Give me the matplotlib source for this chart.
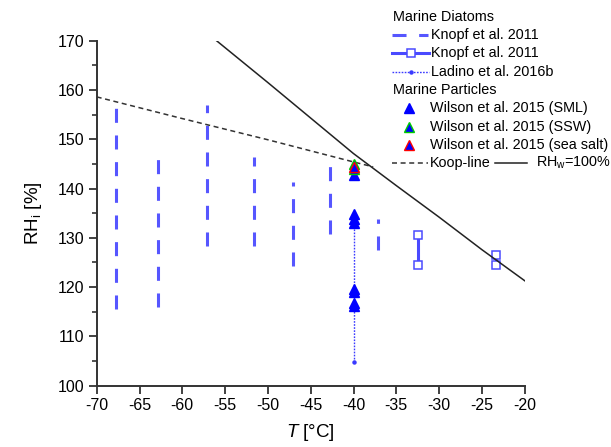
import matplotlib
matplotlib.use('Agg')
from matplotlib import pyplot as plt
import numpy as np

plt.rcParams['font.family'] = ['Liberation Sans', 'DejaVu Sans']
plt.rcParams['mathtext.fontset'] = 'custom'
plt.rcParams['mathtext.rm'] = 'Liberation Sans'
plt.rcParams['mathtext.it'] = 'Liberation Sans:italic'
plt.rcParams['lines.scale_dashes'] = False
plt.rcParams['axes.unicode_minus'] = False

# Knopf et al. 2011, onset ranges (vertical dashed bars)
knopf_T = [-67.7, -62.8, -57.1, -51.6, -47.1, -42.8, -37.1]
knopf_rh_lo = [115.5, 115.9, 128.4, 128.4, 124.2, 130.7, 127.6]
knopf_rh_hi = [156.4, 146.0, 156.9, 146.5, 141.4, 144.5, 133.9]

# Knopf et al. 2011, squares
knopf_sq_T = [-32.5, -23.3]
knopf_sq_lo = [124.4, 124.4]
knopf_sq_hi = [130.6, 126.6]

# Ladino et al. 2016b
ladino_T = [-40, -40]
ladino_rh = [104.8, 134.6]

# Wilson et al. 2015
sml_T = [-40] * 8
sml_rh = [142.8, 134.8, 133.8, 133.1, 119.7, 119.0, 116.8, 116.1]
ssw_T = [-40, -40]
ssw_rh = [144.9, 144.0]
salt_T = [-40]
salt_rh = [144.4]

# Koop line and water saturation
koop_T = [-70, -60, -50, -40, -37.7]
koop_rh = [158.6, 154.2, 149.9, 145.4, 144.4]
water_T = [-56, -50, -45, -40, -35, -30, -25, -20]
water_rh = [170.0, 161.5, 154.3, 147.1, 140.6, 134.2, 127.6, 121.3]

blue_dash = '#5656ff'
blue_sq = '#4a4aff'

fig = plt.figure(figsize=(6.11, 4.47), dpi=100)
ax = fig.add_axes([96.7/611, 1 - 385.7/447, (524.7 - 96.7)/611, (385.7 - 40.7)/447])

for T, lo, hi in zip(knopf_T, knopf_rh_lo, knopf_rh_hi):
    ax.plot([T, T], [lo, hi], color=blue_dash, lw=2.2, linestyle=(0, (10.1, 9.1)),
            solid_capstyle='butt')

for T, lo, hi in zip(knopf_sq_T, knopf_sq_lo, knopf_sq_hi):
    ax.plot([T, T], [lo, hi], color=blue_sq, lw=2.2, marker='s', ms=6,
            mfc='white', mec=blue_sq, mew=1.1)

ax.plot(koop_T, koop_rh, color='#333333', lw=1.1, linestyle=(0, (3.6, 2.6)))
ax.plot(water_T, water_rh, color='#222222', lw=1.1)

ax.plot(ladino_T, ladino_rh, color='#3a3aff', lw=1.0, linestyle=(0, (1.2, 1.0)),
        marker='o', ms=2.2)

ax.plot(sml_T, sml_rh, linestyle='none', marker='^', ms=6.5, color='#0000ff', mec='#0000ff')
ax.plot(ssw_T, ssw_rh, linestyle='none', marker='^', ms=6.5, color='#0000ff', mec='#00cc00', mew=1.0)
ax.plot(salt_T, salt_rh, linestyle='none', marker='^', ms=6.5, color='#0000ff', mec='#ff0000', mew=1.0)

ax.set_xlim(-70, -20)
ax.set_ylim(100, 170)
ax.set_xticks(np.arange(-70, -19, 5))
ax.set_yticks(np.arange(100, 171, 10))
ax.set_yticks(np.arange(105, 170, 10), minor=True)
ax.spines['top'].set_visible(False)
ax.spines['right'].set_visible(False)
for s in ['left', 'bottom']:
    ax.spines[s].set_linewidth(1.4)
    ax.spines[s].set_color('#333333')
ax.tick_params(which='major', length=6, width=1.3, color='#333333', labelsize=11.5, pad=3)
ax.tick_params(which='minor', length=3.5, width=1.2, color='#333333')
ax.set_xlabel('$T$ [°C]', fontsize=13.5, labelpad=6)
ax.set_ylabel('RH$_\\mathrm{i}$ [%]', fontsize=13.5, labelpad=10)

# legend drawn in pixel coordinates on an overlay
lg = fig.add_axes([0, 0, 1, 1], facecolor='none')
lg.set_xlim(0, 611)
lg.set_ylim(447, 0)
lg.axis('off')
fs = 10.4
lg.text(393, 17, 'Marine Diatoms', fontsize=fs, va='center')
lg.plot([392, 428], [35, 35], color=blue_dash, lw=2.2, linestyle=(0, (10.1, 9.1)))
lg.text(431, 35, 'Knopf et al. 2011', fontsize=fs, va='center')
lg.plot([392, 429], [53, 53], color=blue_sq, lw=2.2)
lg.plot([411], [53], marker='s', ms=6, mfc='white', mec=blue_sq, mew=1.1)
lg.text(431, 53, 'Knopf et al. 2011', fontsize=fs, va='center')
lg.plot([392, 429], [72, 72], color='#3a3aff', lw=1.0, linestyle=(0, (1.2, 1.0)))
lg.plot([411], [72], marker='o', ms=2.2, color='#3a3aff')
lg.text(431, 72, 'Ladino et al. 2016b', fontsize=fs, va='center')
lg.text(393, 90, 'Marine Particles', fontsize=fs, va='center')
for yy, ec, lab in [(108, '#0000ff', 'Wilson et al. 2015 (SML)'),
                    (127, '#00cc00', 'Wilson et al. 2015 (SSW)'),
                    (145, '#ff0000', 'Wilson et al. 2015 (sea salt)')]:
    lg.plot([409], [yy], marker='^', ms=6.5, color='#0000ff', mec=ec, mew=1.0)
    lg.text(430, yy, lab, fontsize=fs, va='center')
lg.plot([392, 428], [163, 163], color='#333333', lw=1.1, linestyle=(0, (3.6, 2.6)))
lg.text(430, 163, 'Koop-line', fontsize=fs, va='center')
lg.plot([495, 527], [163, 163], color='#222222', lw=1.1)
lg.text(536, 163, 'RH$_\\mathrm{w}$=100%', fontsize=fs, va='center')

fig.savefig('out.png', dpi=100)
